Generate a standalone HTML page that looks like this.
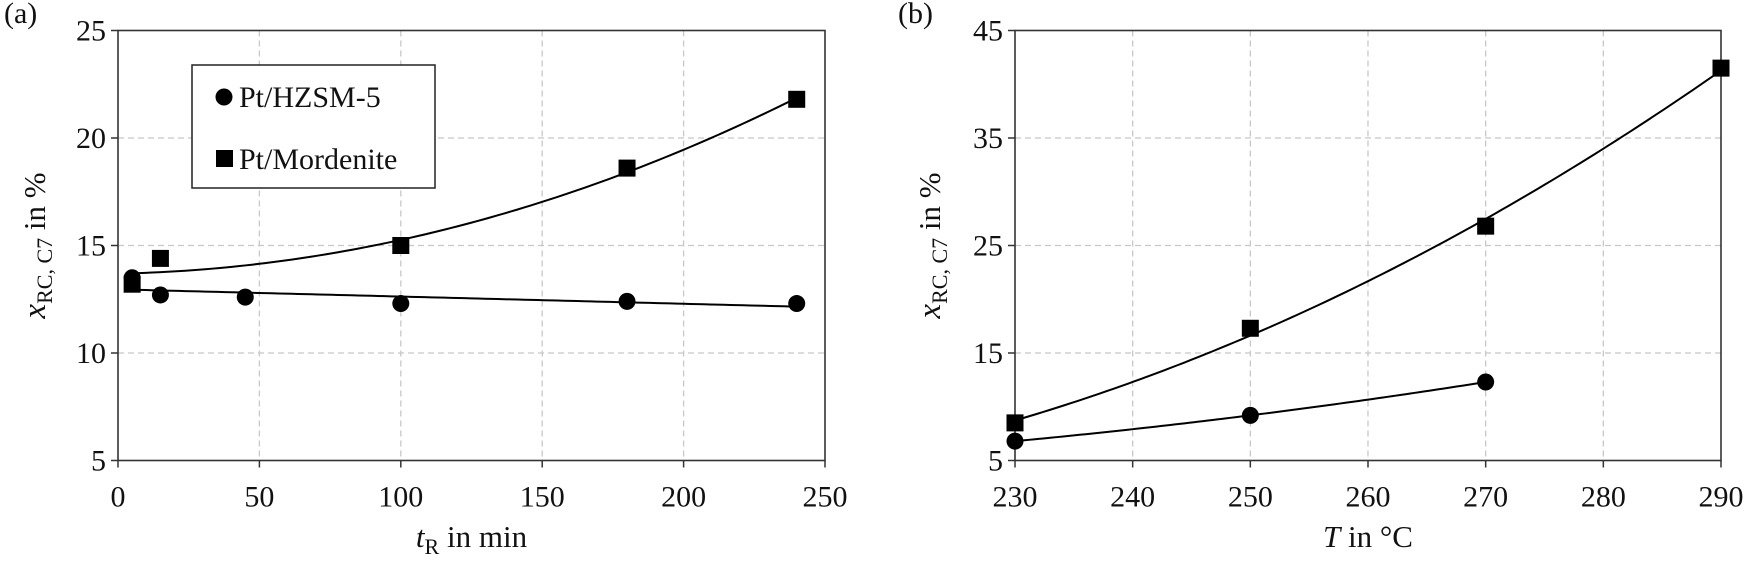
<!DOCTYPE html>
<html><head><meta charset="utf-8">
<style>
html,body{margin:0;padding:0;background:#fff;}
svg{display:block;}
svg text{font-family:"Liberation Serif","Times New Roman",serif;}
</style></head>
<body>
<svg id="fig" width="1750" height="561" viewBox="0 0 1750 561" font-family="Liberation Serif, serif"></svg>
<script>
// Panel (a)
const aTimes=[5,15,45,100,180,240];
const aHZSM=[13.5,12.7,12.6,12.3,12.4,12.3];
const aMordTimes=[5,15,100,180,240];
const aMord=[13.2,14.4,15.0,18.6,21.8];
const aXTicks=[0,50,100,150,200,250];
const aYTicks=[5,10,15,20,25];
// Panel (b)
const bTempsMord=[230,250,270,290];
const bMord=[8.5,17.3,26.8,41.5];
const bTempsHZSM=[230,250,270];
const bHZSM=[6.8,9.2,12.3];
const bXTicks=[230,240,250,260,270,280,290];
const bYTicks=[5,15,25,35,45];

const NS="http://www.w3.org/2000/svg";
const svg=document.getElementById('fig');
function mk(tag,attrs,parent){const e=document.createElementNS(NS,tag);for(const k in attrs)e.setAttribute(k,attrs[k]);if(tag==='text')e.setAttribute('font-family','Liberation Serif, serif');(parent||svg).appendChild(e);return e;}

function polyfit(xs,ys,deg){
  const n=deg+1;const A=[];for(let i=0;i<n;i++){A.push(new Array(n+1).fill(0));}
  for(let k=0;k<xs.length;k++){for(let i=0;i<n;i++){for(let j=0;j<n;j++)A[i][j]+=Math.pow(xs[k],i+j);A[i][n]+=ys[k]*Math.pow(xs[k],i);}}
  for(let i=0;i<n;i++){let p=i;for(let r=i+1;r<n;r++)if(Math.abs(A[r][i])>Math.abs(A[p][i]))p=r;[A[i],A[p]]=[A[p],A[i]];
    for(let r=0;r<n;r++){if(r===i)continue;const f=A[r][i]/A[i][i];for(let c=i;c<=n;c++)A[r][c]-=f*A[i][c];}}
  return A.map((r,i)=>r[n]/r[i]);
}
function evalP(c,x){return c.reduce((s,v,i)=>s+v*Math.pow(x,i),0);}

function panel(cfg){
  const g=mk('g',{});
  
  
  const {x0,x1,y0,y1,xmin,xmax,ymin,ymax}=cfg;
  const sx=v=>x0+(v-xmin)/(xmax-xmin)*(x1-x0);
  const sy=v=>y1-(v-ymin)/(ymax-ymin)*(y1-y0);
  cfg.xTicks.forEach(t=>{
    if(t!==xmin&&t!==xmax){const l=mk('line',{x1:sx(t),x2:sx(t),y1:y0,y2:y1,stroke:'#c8c8c8','stroke-width':1.3,'stroke-dasharray':'6,4'},g);
    }
    const tk=mk('line',{x1:sx(t),x2:sx(t),y1:y1,y2:y1+7,stroke:'#333','stroke-width':1.5},g);
    
    const tx=mk('text',{x:sx(t),y:y1+46,'text-anchor':'middle','font-size':30,fill:'#111'},g);tx.textContent=t;
    
  });
  cfg.yTicks.forEach(t=>{
    if(t!==ymin&&t!==ymax){const l=mk('line',{x1:x0,x2:x1,y1:sy(t),y2:sy(t),stroke:'#c8c8c8','stroke-width':1.3,'stroke-dasharray':'6,4'},g);
    }
    const tk=mk('line',{x1:x0-7,x2:x0,y1:sy(t),y2:sy(t),stroke:'#333','stroke-width':1.5},g);
    
    const tx=mk('text',{x:x0-12,y:sy(t)+10,'text-anchor':'end','font-size':30,fill:'#111'},g);tx.textContent=t;
    
  });
  const fr=mk('rect',{x:x0,y:y0,width:x1-x0,height:y1-y0,fill:'none',stroke:'#333','stroke-width':1.6},g);
  
  cfg.series.forEach(s=>{
    const c=polyfit(s.xs,s.ys,s.deg);
    const lo=Math.min(...s.xs),hi=Math.max(...s.xs);let d='';
    for(let i=0;i<=100;i++){const x=lo+(hi-lo)*i/100;d+=(i?'L':'M')+sx(x).toFixed(2)+','+sy(evalP(c,x)).toFixed(2);}
    const p=mk('path',{d:d,fill:'none',stroke:'#000','stroke-width':2},g);
    
    s.xs.forEach((x,i)=>{
      let m;
      if(s.shape==='circle')m=mk('circle',{cx:sx(x),cy:sy(s.ys[i]),r:8.5,fill:'#000'},g);
      else m=mk('rect',{x:sx(x)-8.5,y:sy(s.ys[i])-8.5,width:17,height:17,fill:'#000'},g);
      
    });
  });
  const lab=mk('text',{x:cfg.panelX,y:23,'font-size':30,fill:'#111'},g);lab.textContent=cfg.label;
  
  const xt=mk('text',{x:(x0+x1)/2,y:547,'text-anchor':'middle','font-size':31,fill:'#111'},g);
  xt.innerHTML=cfg.xTitle;
  
  const yt=mk('text',{x:0,y:0,'text-anchor':'middle','font-size':31,fill:'#111',transform:`translate(${cfg.yTitleX},${(y0+y1)/2}) rotate(-90)`},g);
  yt.innerHTML='<tspan font-style="italic" font-size="33">x</tspan><tspan font-size="22" dy="7">RC, C7</tspan><tspan dy="-7"> in %</tspan>';
  
  return {g,sx,sy};
}

panel({name:'panel-a',x0:118,x1:825,y0:30.5,y1:460.5,xmin:0,xmax:250,ymin:5,ymax:25,
  xTicks:aXTicks,yTicks:aYTicks,panelX:4,label:'(a)',yTitleX:45,
  xTitle:'<tspan font-style="italic">t</tspan><tspan font-size="22" dy="7">R</tspan><tspan dy="-7"> in min</tspan>',
  series:[{name:'hzsm5',xs:aTimes,ys:aHZSM,deg:1,shape:'circle'},{name:'mordenite',xs:aMordTimes,ys:aMord,deg:2,shape:'square'}]});
panel({name:'panel-b',x0:1015,x1:1721,y0:30.5,y1:460.5,xmin:230,xmax:290,ymin:5,ymax:45,
  xTicks:bXTicks,yTicks:bYTicks,panelX:898,label:'(b)',yTitleX:940,
  xTitle:'<tspan font-style="italic">T</tspan> in °C',
  series:[{name:'hzsm5',xs:bTempsHZSM,ys:bHZSM,deg:2,shape:'circle'},{name:'mordenite',xs:bTempsMord,ys:bMord,deg:2,shape:'square'}]});

// legend
const lg=mk('g',{});


mk('rect',{x:192,y:65,width:243,height:123,fill:'#fff',stroke:'#222','stroke-width':1.5},lg);
const lc=mk('circle',{cx:224,cy:97,r:8.5,fill:'#000'},lg);


const lt1=mk('text',{x:239,y:107,'font-size':30,fill:'#111'},lg);lt1.textContent='Pt/HZSM-5';


const ls=mk('rect',{x:216,y:150,width:17,height:17,fill:'#000'},lg);


const lt2=mk('text',{x:239,y:169,'font-size':30,fill:'#111'},lg);lt2.textContent='Pt/Mordenite';


</script>
</body></html>
